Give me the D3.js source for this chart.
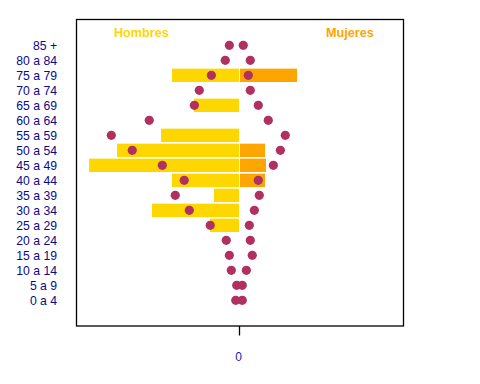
<!DOCTYPE html>
<html><head><meta charset="utf-8">
<script src="https://cdn.jsdelivr.net/npm/d3@7"></script>
<style>body{margin:0;background:#fff}svg{display:block}</style>
</head><body>
<script>
const categories = ["85 +","80 a 84","75 a 79","70 a 74","65 a 69","60 a 64","55 a 59","50 a 54","45 a 49","40 a 44","35 a 39","30 a 34","25 a 29","20 a 24","15 a 19","10 a 14","5 a 9","0 a 4"];
const hombresBar = [0,0,4.13,0,2.78,0,4.80,7.49,9.20,4.13,1.56,5.35,1.80,0,0,0,0,0];
const mujeresBar = [0,0,3.52,0,0,0,0,1.56,1.62,1.56,0,0,0,0,0,0,0,0];
const hombresDot = [0.62,0.87,1.72,2.46,2.76,5.52,7.84,6.56,4.72,3.38,3.93,3.07,1.79,0.81,0.62,0.50,0.17,0.23];
const mujeresDot = [0.23,0.66,0.54,0.66,1.15,1.76,2.80,2.50,2.07,1.15,1.21,0.91,0.60,0.66,0.78,0.42,0.17,0.17];
const xTicks = [0];

const W = 480, H = 384;
const svg = d3.select("body").append("svg").attr("width", W).attr("height", H);
const x = d3.scaleLinear().domain([-10, 10]).range([76.5, 403.5]);
const y = d3.scaleBand().domain(categories).range([37.8, 307.8]).paddingInner(0.1).paddingOuter(0.05);
const x0 = 239.5;
const xs = v => x(v) - x(0) + x0;
const yc = c => y(c) + y.bandwidth() / 2;

// bars
svg.append("g").selectAll("rect").data(categories).join("rect")
  .attr("x", (c, i) => xs(-hombresBar[i]))
  .attr("width", (c, i) => xs(0) - xs(-hombresBar[i]) - 0.5)
  .attr("y", c => yc(c) - 7).attr("height", 14)
  .attr("fill", "#FFD700");
svg.append("g").selectAll("rect").data(categories).join("rect")
  .attr("x", xs(0) + 0.5)
  .attr("width", (c, i) => Math.max(0, xs(mujeresBar[i]) - xs(0) - 0.5))
  .attr("y", c => yc(c) - 7).attr("height", 14)
  .attr("fill", "#FFA500");
// thin white row separators
svg.append("g").selectAll("line").data(categories).join("line")
  .attr("x1", 76.5).attr("x2", 403.5)
  .attr("y1", c => yc(c) + 7.5).attr("y2", c => yc(c) + 7.5)
  .attr("stroke", "#fff").attr("stroke-width", 1.5);

// dots
const dots = svg.append("g").attr("fill", "#B03060");
dots.selectAll("circle.h").data(categories).join("circle").attr("class", "h")
  .attr("cx", (c, i) => xs(-hombresDot[i])).attr("cy", yc).attr("r", 4.6);
dots.selectAll("circle.m").data(categories).join("circle").attr("class", "m")
  .attr("cx", (c, i) => xs(mujeresDot[i])).attr("cy", yc).attr("r", 4.6);

// frame
svg.append("rect").attr("x", 76.5).attr("y", 19.5).attr("width", 327).attr("height", 306.5)
  .attr("fill", "none").attr("stroke", "#000").attr("stroke-width", 1.3);

// y labels
svg.append("g").selectAll("text").data(categories).join("text")
  .attr("x", 57).attr("y", yc).attr("dy", "0.36em")
  .attr("text-anchor", "end")
  .attr("font-family", "Liberation Sans, Arial, sans-serif").attr("font-size", 12.2)
  .attr("fill", "#0a0a8a").text(d => d);

// x axis
const xAxis = svg.append("g");
xAxis.selectAll("line").data(xTicks).join("line")
  .attr("x1", d => xs(d)).attr("x2", d => xs(d)).attr("y1", 326).attr("y2", 335.5)
  .attr("stroke", "#000").attr("stroke-width", 1.3);
xAxis.selectAll("text").data(xTicks).join("text")
  .attr("x", d => xs(d) - 1).attr("y", 361).attr("text-anchor", "middle")
  .attr("font-family", "Liberation Sans, Arial, sans-serif").attr("font-size", 12)
  .attr("fill", "#1a1ab0").text(d => d);

// series titles
svg.append("text").attr("x", xs(-6)).attr("y", 37.3).attr("text-anchor", "middle")
  .attr("font-family", "Liberation Sans, Arial, sans-serif").attr("font-size", 12.7).attr("font-weight", "bold")
  .attr("fill", "#FFD700").text("Hombres");
svg.append("text").attr("x", xs(6.75)).attr("y", 37.3).attr("text-anchor", "middle")
  .attr("font-family", "Liberation Sans, Arial, sans-serif").attr("font-size", 12.7).attr("font-weight", "bold")
  .attr("fill", "#FFA500").text("Mujeres");
</script>
</body></html>
